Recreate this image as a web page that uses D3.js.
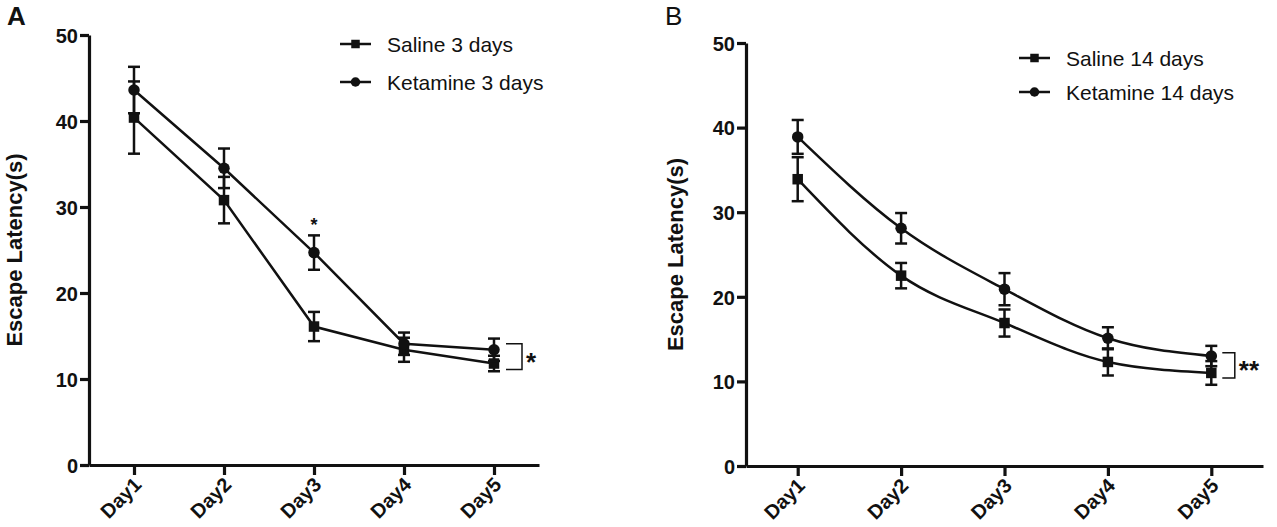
<!DOCTYPE html>
<html>
<head>
<meta charset="utf-8">
<script src="https://cdn.jsdelivr.net/npm/d3@7"></script>
<style>
  body { margin: 0; background: #fff; }
  svg { display: block; font-family: "Liberation Sans", Arial, sans-serif; }
</style>
</head>
<body>
<svg id="chart" width="1277" height="527"></svg>
<script>
const days = ['Day1', 'Day2', 'Day3', 'Day4', 'Day5'];
const yTicks = [0, 10, 20, 30, 40, 50];

// panel A, 3 days (mean, sem)
const salineA = [40.4, 30.8, 16.1, 13.4, 11.8];
const salineAErr = [4.2, 2.7, 1.7, 1.4, 0.9];
const ketamineA = [43.6, 34.5, 24.7, 14.1, 13.4];
const ketamineAErr = [2.7, 2.3, 2.0, 1.3, 1.3];

// panel B, 14 days
const salineB = [33.9, 22.5, 16.9, 12.3, 11.0];
const salineBErr = [2.6, 1.5, 1.6, 1.6, 1.4];
const ketamineB = [38.9, 28.1, 20.9, 15.1, 13.0];
const ketamineBErr = [2.0, 1.8, 1.9, 1.3, 1.2];

const svg = d3.select('#chart');
const ink = '#111';

function drawPanel(p) {
  const x = d3.scalePoint().domain(days).range([p.left, p.right]).padding(0.5);
  const y = d3.scaleLinear().domain([0, 50]).range([p.bottom, p.top]);
  const g = svg.append('g');

  // panel letter
  g.append('text').
    attr('x', p.letterX).
    attr('y', 25).
    style('font-size', '26px').
    style('font-weight', p.letterWeight).
    style('fill', ink).
    text(p.letter);

  // axes
  const yAxis = g.append('g').
    attr('transform', `translate(${p.left},0)`).
    call(d3.axisLeft(y).tickValues(yTicks).tickSize(9).tickSizeOuter(0).tickPadding(2));
  const xAxis = g.append('g').
    attr('transform', `translate(0,${p.bottom})`).
    call(d3.axisBottom(x).tickSize(10).tickSizeOuter(0));
  [yAxis, xAxis].forEach(a => {
    a.selectAll('path, line').attr('stroke', ink).attr('stroke-width', 3.2);
    a.selectAll('text').
      style('font-size', '20px').
      style('font-weight', 'bold').
      style('fill', ink);
  });
  yAxis.selectAll('.tick text').attr('dy', '0.36em');
  xAxis.selectAll('.tick text').
    attr('x', 0).attr('y', 0).attr('dy', 0).
    attr('text-anchor', 'end').
    attr('transform', 'translate(8,21) rotate(-45)');

  g.append('text').
    attr('transform', `translate(${p.titleX},${(p.top + p.bottom) / 2}) rotate(-90)`).
    attr('text-anchor', 'middle').
    style('font-size', '22px').
    style('font-weight', 'bold').
    style('fill', ink).
    text('Escape Latency(s)');

  const line = d3.line().
    x(d => x(d.day)).
    y(d => y(d.value)).
    curve(p.curve);

  p.series.forEach(s => {
    const pts = days.map((day, i) => ({ day, value: s.values[i], err: s.errors[i] }));

    g.append('path').
      attr('d', line(pts)).
      attr('fill', 'none').
      attr('stroke', ink).
      attr('stroke-width', 2.5);

    const bars = g.append('g').attr('stroke', ink).attr('stroke-width', 2.5);
    pts.forEach(d => {
      const cx = x(d.day);
      bars.append('line').
        attr('x1', cx).attr('x2', cx).
        attr('y1', y(d.value - d.err)).attr('y2', y(d.value + d.err));
      [d.value - d.err, d.value + d.err].forEach(v => {
        bars.append('line').
          attr('x1', cx - 6).attr('x2', cx + 6).
          attr('y1', y(v)).attr('y2', y(v));
      });
    });

    pts.forEach(d => drawMarker(g, s.shape, x(d.day), y(d.value), 10.5));
  });

  // legend
  p.series.forEach((s, i) => {
    const ly = p.legendY[i];
    g.append('line').
      attr('x1', p.legendX).attr('x2', p.legendX + 31).
      attr('y1', ly).attr('y2', ly).
      attr('stroke', ink).attr('stroke-width', 2.5);
    drawMarker(g, s.shape, p.legendX + 15.5, ly, 8.5);
    g.append('text').
      attr('x', p.legendX + 47).
      attr('y', ly + 7.5).
      style('font-size', '21px').
      style('fill', ink).
      text(s.name);
  });

  // significance marks
  p.stars.forEach(st => {
    g.append('text').
      attr('x', x(st.day)).
      attr('y', y(st.value) + 10).
      attr('text-anchor', 'middle').
      style('font-size', '18px').
      style('font-weight', 'bold').
      style('fill', ink).
      text('*');
  });

  const bx = x('Day5');
  const b = p.bracket;
  g.append('path').
    attr('d', `M${bx + b.dx0},${y(b.hi)}H${bx + b.dx1}V${y(b.lo)}H${bx + b.dx0}`).
    attr('fill', 'none').
    attr('stroke', ink).
    attr('stroke-width', 1.5);
  g.append('text').
    attr('x', bx + b.dx1 + 4).
    attr('y', y((b.hi + b.lo) / 2) + 14).
    style('font-size', '26px').
    style('font-weight', 'bold').
    style('fill', ink).
    text(b.label);
}

function drawMarker(g, shape, cx, cy, size) {
  if (shape === 'square') {
    g.append('rect').
      attr('x', cx - size / 2).attr('y', cy - size / 2).
      attr('width', size).attr('height', size).
      attr('fill', ink);
  } else {
    g.append('circle').
      attr('cx', cx).attr('cy', cy).
      attr('r', size / 2 + 0.5).
      attr('fill', ink);
  }
}

drawPanel({
  letter: 'A', letterX: 7, letterWeight: 'bold',
  left: 89, right: 539, top: 35, bottom: 465,
  titleX: 22,
  curve: d3.curveLinear,
  legendX: 340, legendY: [44, 82],
  series: [
    { name: 'Saline 3 days', shape: 'square', values: salineA, errors: salineAErr },
    { name: 'Ketamine 3 days', shape: 'circle', values: ketamineA, errors: ketamineAErr },
  ],
  stars: [{ day: 'Day3', value: 28.4 }],
  bracket: { hi: 14.1, lo: 11.1, dx0: 12, dx1: 28, label: '*' },
});

drawPanel({
  letter: 'B', letterX: 665, letterWeight: 'normal',
  left: 746, right: 1263, top: 43, bottom: 466,
  titleX: 683,
  curve: d3.curveMonotoneX,
  legendX: 1019, legendY: [58, 92],
  series: [
    { name: 'Saline 14 days', shape: 'square', values: salineB, errors: salineBErr },
    { name: 'Ketamine 14 days', shape: 'circle', values: ketamineB, errors: ketamineBErr },
  ],
  stars: [],
  bracket: { hi: 13.4, lo: 10.4, dx0: 11, dx1: 23.5, label: '**' },
});
</script>
</body>
</html>
